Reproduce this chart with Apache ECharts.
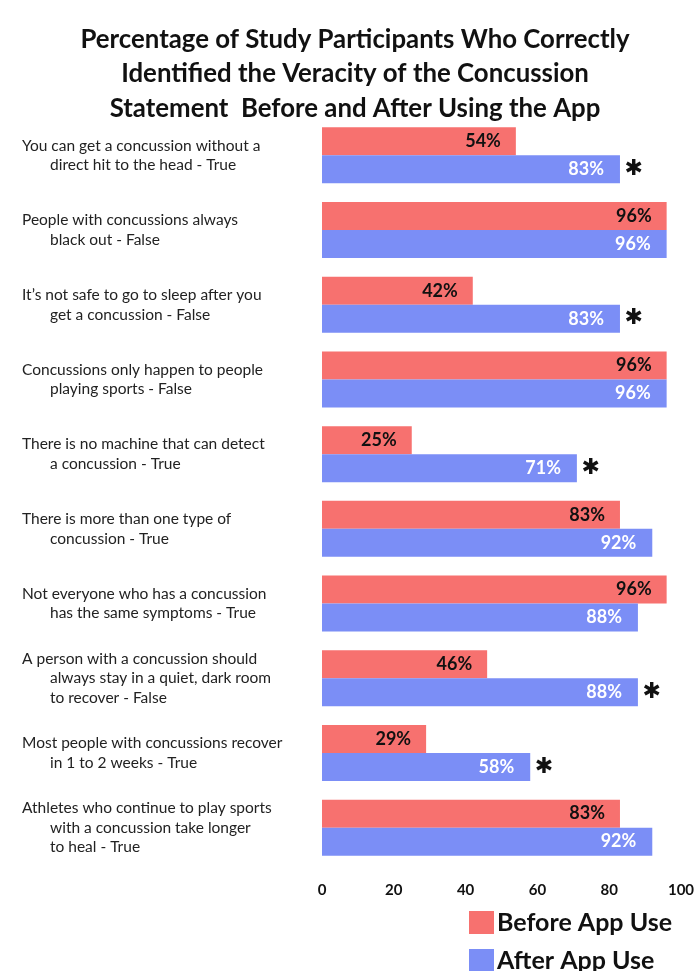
<!DOCTYPE html>
<html>
<head>
<meta charset="utf-8">
<script src="https://cdn.jsdelivr.net/npm/echarts@6/dist/echarts.min.js"></script>
<style>
  html, body { margin: 0; padding: 0; background: #fff; }
  #chart { width: 700px; height: 971px; }
</style>
</head>
<body>
<div id="chart"></div>
<script>
// statements, one entry per line of the label
const statements = [
    ['You can get a concussion without a', 'direct hit to the head - True'],
    ['People with concussions always', 'black out - False'],
    ['It\u2019s not safe to go to sleep after you', 'get a concussion - False'],
    ['Concussions only happen to people', 'playing sports - False'],
    ['There is no machine that can detect', 'a concussion - True'],
    ['There is more than one type of', 'concussion - True'],
    ['Not everyone who has a concussion', 'has the same symptoms - True'],
    ['A person with a concussion should', 'always stay in a quiet, dark room', 'to recover - False'],
    ['Most people with concussions recover', 'in 1 to 2 weeks - True'],
    ['Athletes who continue to play sports', 'with a concussion take longer', 'to heal - True']
];
const beforeApp = [54, 96, 42, 96, 25, 83, 96, 46, 29, 83];
const afterApp = [83, 96, 83, 96, 71, 92, 88, 88, 58, 92];
// significant change marked with an asterisk
const significant = [true, false, true, false, true, false, false, true, true, false];
const xTicks = [0, 20, 40, 60, 80, 100];

const font = 'Lato';
const chart = echarts.init(document.getElementById('chart'));

chart.setOption({
    backgroundColor: '#fff',
    title: {
        text: 'Percentage of Study Participants Who Correctly\nIdentified the Veracity of the Concussion\nStatement  Before and After Using the App',
        left: 350,
        textAlign: 'center',
        top: 17,
        textStyle: {
            fontFamily: font,
            fontSize: 25.8,
            fontWeight: 'bold',
            lineHeight: 34.5,
            color: '#111'
        }
    },
    legend: {
        orient: 'vertical',
        left: 469,
        top: 910,
        height: 120,
        padding: 0,
        itemWidth: 25,
        itemHeight: 23,
        itemGap: 13,
        icon: 'rect',
        textStyle: { fontFamily: font, fontSize: 25, fontWeight: 'bold', color: '#111', lineHeight: 23, padding: [0, 0, 0, -2] }
    },
    grid: { left: 322, right: 19, top: 118, bottom: 106, containLabel: false },
    xAxis: {
        type: 'value',
        min: xTicks[0],
        max: xTicks[xTicks.length - 1],
        interval: 20,
        axisLine: { show: false },
        axisTick: { show: false },
        splitLine: { show: false },
        axisLabel: { fontFamily: font, fontSize: 15, fontWeight: 'bold', color: '#111', margin: 18 }
    },
    yAxis: {
        type: 'category',
        inverse: true,
        data: statements.map(s => s.join('\n')),
        axisLine: { show: false },
        axisTick: { show: false },
        axisLabel: {
            align: 'left',
            margin: 300,
            formatter: function (value, idx) {
                return statements[idx].map((l, i) => (i === 0 ? '{a|' : '{b|') + l + '}').join('\n');
            },
            rich: {
                a: { fontFamily: font, fontSize: 15.5, color: '#222', lineHeight: 19.5 },
                b: { fontFamily: font, fontSize: 15.5, color: '#222', lineHeight: 19.5, padding: [0, 0, 0, 28] }
            }
        }
    },
    series: [
        {
            name: 'Before App Use',
            type: 'bar',
            data: beforeApp,
            barGap: '0%',
            barCategoryGap: '25%',
            itemStyle: { color: '#f7716f' },
            label: {
                show: true,
                position: 'insideRight',
                offset: [-10, 0],
                formatter: '{c}%',
                fontFamily: font,
                fontSize: 18,
                fontWeight: 'bold',
                color: '#111'
            }
        },
        {
            name: 'After App Use',
            type: 'bar',
            data: afterApp,
            itemStyle: { color: '#7b8ef6' },
            label: {
                show: true,
                position: 'insideRight',
                distance: 0,
                offset: [23, 0],
                formatter: function (p) {
                    return '{v|' + p.value + '%}{s|' + (significant[p.dataIndex] ? '\u2731' : ' ') + '}';
                },
                rich: {
                    v: { fontFamily: font, fontSize: 18, fontWeight: 'bold', color: '#fff' },
                    s: { fontFamily: 'DejaVu Sans', fontSize: 22, fontWeight: 'bold', color: '#111', width: 39, align: 'right' }
                }
            }
        }
    ]
});
</script>
</body>
</html>
